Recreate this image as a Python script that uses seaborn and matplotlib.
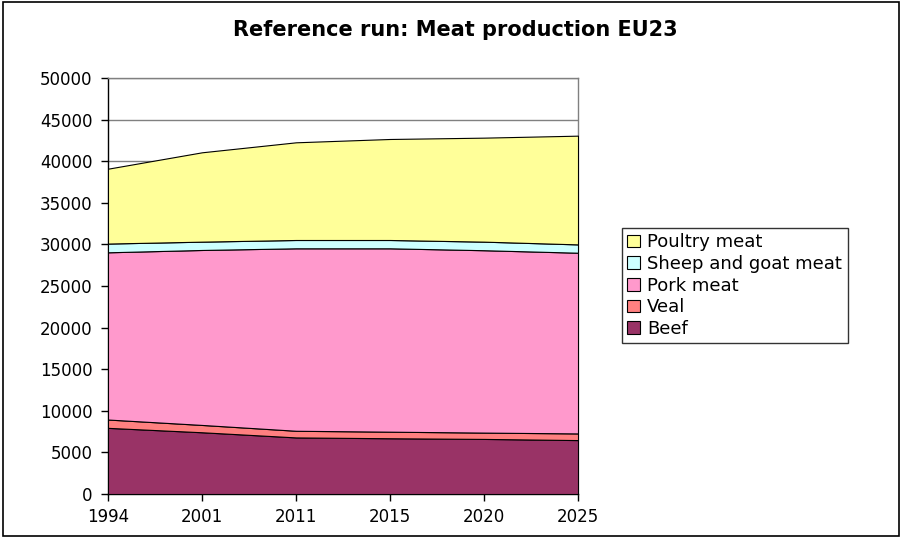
import matplotlib
matplotlib.use("Agg")
import matplotlib.pyplot as plt
import seaborn as sns
import pandas as pd
from matplotlib.patches import Rectangle

years = ["1994", "2001", "2011", "2015", "2020", "2025"]
beef = [7950, 7420, 6800, 6700, 6620, 6480]
veal = [1000, 880, 800, 790, 760, 800]
pork = [20100, 21030, 21930, 22040, 21920, 21720]
sheep_goat = [1050, 1000, 1000, 1000, 1030, 1000]
poultry = [9000, 10740, 11740, 12140, 12500, 13070]

series_names = ["Beef", "Veal", "Pork meat", "Sheep and goat meat", "Poultry meat"]
colors = ["#993366", "#FF8080", "#FF99CC", "#CCFFFF", "#FFFF99"]

df = pd.DataFrame({"Year": years, "Beef": beef, "Veal": veal, "Pork meat": pork,
                   "Sheep and goat meat": sheep_goat, "Poultry meat": poultry})

sns.set_style("white")
plt.rcParams["font.family"] = ["DejaVu Sans"]
plt.rcParams["text.color"] = "black"
plt.rcParams["xtick.color"] = "black"
plt.rcParams["ytick.color"] = "black"
plt.rcParams["axes.labelcolor"] = "black"

fig = plt.figure(figsize=(9.01, 5.37), dpi=100)
ax = fig.add_axes([108 / 901, 43 / 537, 470 / 901, 416 / 537])

x = list(range(len(years)))
ax.stackplot(x, [df[n] for n in series_names], colors=colors,
             edgecolor="black", linewidth=0.8, labels=series_names, zorder=3)

ax.set_xlim(0, len(years) - 1)
ax.set_ylim(0, 50000)
ax.set_yticks(range(0, 50001, 5000))
ax.set_xticks(x)
ax.set_xticklabels(years)
ax.yaxis.grid(True, color="#808080", linewidth=1, zorder=1)
ax.tick_params(axis="both", labelsize=12, length=5, width=1, color="black",
               labelcolor="black", direction="out", bottom=True, left=True)
ax.tick_params(axis="x", pad=5)
ax.tick_params(axis="y", pad=6)

for side in ["top", "right"]:
    ax.spines[side].set_color("#808080")
    ax.spines[side].set_linewidth(1)
for side in ["left", "bottom"]:
    ax.spines[side].set_color("black")
    ax.spines[side].set_linewidth(1)

fig.text(455 / 901, 1 - 30 / 537, "Reference run: Meat production EU23",
         fontsize=15, fontweight="bold", ha="center", va="center",
         color="black")

handles, labels = ax.get_legend_handles_labels()
leg = fig.legend(handles[::-1], labels[::-1], loc="upper left",
                 bbox_to_anchor=(622 / 901, 1 - 228 / 537), fontsize=13,
                 frameon=True, fancybox=False, edgecolor="black",
                 handlelength=0.7, handleheight=0.7, handletextpad=0.4,
                 labelspacing=0.2, borderpad=0.3, borderaxespad=0)
leg.get_frame().set_linewidth(1)
for t in leg.get_texts():
    t.set_color("black")

fig.patches.append(Rectangle((3 / 901, 1 / 537), 896 / 901, 534 / 537,
                             transform=fig.transFigure, fill=False,
                             edgecolor="black", linewidth=1.2))

fig.savefig("out.png", dpi=100, facecolor="white")
